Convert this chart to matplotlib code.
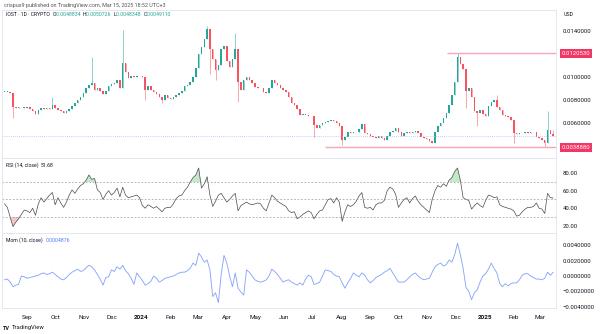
import numpy as np
import pandas as pd
import matplotlib
matplotlib.use('Agg')
import matplotlib.pyplot as plt
import matplotlib.dates as mdates
from matplotlib.ticker import FuncFormatter

plt.rcParams['font.family'] = ['Roboto', 'DejaVu Sans']

# IOST/USD, 3-day bars starting 2023-08-08
start = '2023-08-08'
close = [
    0.00870, 0.00870, 0.00860, 0.00740, 0.00730, 0.00735, 0.00740, 0.00730, 0.00740, 0.00720,
    0.00700, 0.00680, 0.00710, 0.00730, 0.00720, 0.00730, 0.00720, 0.00760, 0.00730, 0.00710,
    0.00700, 0.00685, 0.00700, 0.00720, 0.00750, 0.00770, 0.00800, 0.00830, 0.00860, 0.00900,
    0.00930, 0.00950, 0.00890, 0.00900, 0.00880, 0.00850, 0.00880, 0.00920, 0.00940, 0.00950,
    0.00970, 0.00900, 0.01120, 0.01040, 0.00990, 0.01010, 0.01000, 0.01010, 0.01005, 0.01000,
    0.00890, 0.00920, 0.00890, 0.00870, 0.00850, 0.00830, 0.00800, 0.00840, 0.00820, 0.00810,
    0.00830, 0.00840, 0.00860, 0.00880, 0.00920, 0.00930, 0.00960, 0.01000, 0.01080, 0.01200,
    0.01260, 0.01330, 0.01420, 0.01240, 0.01160, 0.01060, 0.01100, 0.01240, 0.01270, 0.01140,
    0.01090, 0.01160, 0.01240, 0.00960, 0.00890, 0.00970, 0.01000, 0.00970, 0.00950, 0.00910,
    0.00900, 0.00900, 0.00870, 0.00860, 0.00900, 0.00970, 0.00950, 0.00930, 0.00900, 0.00890,
    0.00870, 0.00830, 0.00770, 0.00760, 0.00720, 0.00670, 0.00670, 0.00670, 0.00660, 0.00660,
    0.00580, 0.00560, 0.00580, 0.00600, 0.00610, 0.00620, 0.00630, 0.00620, 0.00600, 0.00570,
    0.00450, 0.00480, 0.00520, 0.00510, 0.00520, 0.00520, 0.00550, 0.00590, 0.00510, 0.00500,
    0.00490, 0.00480, 0.00470, 0.00490, 0.00470, 0.00450, 0.00490, 0.00520, 0.00530, 0.00560,
    0.00520, 0.00490, 0.00510, 0.00520, 0.00515, 0.00520, 0.00530, 0.00510, 0.00480, 0.00470,
    0.00460, 0.00440, 0.00430, 0.00520, 0.00570, 0.00600, 0.00640, 0.00690, 0.00760, 0.00840,
    0.00960, 0.01170, 0.01110, 0.01070, 0.00880, 0.00900, 0.00830, 0.00700, 0.00690, 0.00710,
    0.00680, 0.00660, 0.00750, 0.00780, 0.00800, 0.00740, 0.00710, 0.00670, 0.00660, 0.00650,
    0.00630, 0.00510, 0.00500, 0.00510, 0.00515, 0.00520, 0.00515, 0.00520, 0.00525, 0.00480,
    0.00470, 0.00450, 0.00430, 0.00540, 0.00500, 0.004911,
]
first_open = 0.00870

# long wicks (bar number, extreme price)
wick_bar = [3, 17, 31, 42, 50, 56, 72, 73, 75, 82, 83, 110, 120, 161, 164, 168, 175, 181, 192, 193, 195]
wick_price = [0.00640, 0.00830, 0.01170, 0.01410, 0.00800, 0.00770, 0.01445, 0.01030, 0.00970,
              0.01380, 0.00780, 0.00480, 0.00410, 0.0120530, 0.00730, 0.00570, 0.00840, 0.00430,
              0.0038880, 0.00700, 0.00540]

rsi = [
    45, 41, 30, 19, 24, 28, 33, 38, 37, 35,
    40, 32, 45, 52, 47, 51, 55, 58, 44, 52,
    46, 41, 47, 55, 61, 57, 62, 66, 68, 72,
    78, 73, 74, 61, 58, 50, 56, 60, 55, 58,
    63, 53, 64, 55, 52, 53, 54, 55, 52, 43,
    40, 44, 42, 40, 42, 39, 36, 40, 41, 41,
    45, 51, 54, 55, 60, 64, 70, 75, 78, 86,
    63, 68, 76, 55, 42, 48, 55, 57, 52, 47,
    50, 54, 57, 37, 43, 45, 47, 45, 44, 45,
    46, 45, 40, 37, 46, 55, 52, 48, 46, 44,
    42, 37, 35, 36, 28, 30, 33, 35, 37, 35,
    28, 33, 37, 38, 44, 50, 51, 46, 52, 47,
    25, 36, 44, 42, 44, 48, 54, 58, 41, 40,
    41, 38, 44, 46, 46, 49, 60, 64, 62, 56,
    41, 46, 50, 52, 46, 51, 54, 48, 44, 41,
    38, 35, 50, 60, 66, 64, 68, 65, 72, 75,
    82, 86, 72, 52, 50, 49, 39, 43, 46, 43,
    41, 49, 55, 54, 52, 53, 44, 42, 41, 40,
    39, 37, 31, 32, 36, 39, 41, 41, 42, 46,
    40, 39, 34, 57, 52, 51.68,
]

mom = [
    -0.0005, -0.0004, -0.0008, -0.0014, -0.0012, -0.0011, 0.0, -0.0001, -0.0003, -0.0002,
    -0.0001, 0.0, 0.0001, 0.0003, 0.0004, 0.0002, 0.0003, 0.0005, 0.0002, -0.0001,
    -0.0004, -0.0005, -0.0002, 0.0002, 0.0005, 0.0007, 0.0009, 0.0006, 0.0007, 0.0011,
    0.0014, 0.0012, 0.0008, 0.0002, -0.0004, -0.0012, -0.0002, -0.0001, 0.0008, 0.0006,
    0.0012, 0.0009, 0.0014, 0.0007, 0.0003, -0.0003, -0.0011, 0.0004, -0.0001, -0.0006,
    -0.0012, -0.0010, -0.0007, 0.0, -0.0003, -0.0008, -0.0006, -0.0003, -0.0002, -0.0001,
    0.0, 0.0002, 0.0004, 0.0005, 0.0005, 0.0007, 0.0010, 0.0017, 0.0014, 0.0030,
    0.0025, 0.0018, 0.0021, 0.0008, -0.0027, -0.0022, -0.0035, 0.0002, 0.0027, 0.0017,
    0.0, -0.0014, 0.0004, -0.0016, -0.0021, -0.0025, 0.0008, 0.0005, 0.0, -0.0005,
    -0.0007, -0.0008, -0.0007, -0.0005, 0.0, 0.0009, 0.0006, 0.0002, -0.0003, -0.0008,
    -0.0006, -0.0005, -0.0008, -0.0010, -0.0012, -0.0009, -0.0012, -0.0004, 0.0001, -0.0001,
    -0.0011, -0.0010, -0.0008, 0.0, 0.0008, 0.0007, 0.0006, 0.0002, 0.0, -0.0001,
    -0.0009, -0.0016, -0.0009, -0.0003, 0.0004, 0.0001, -0.0001, 0.0004, 0.0001, -0.0005,
    -0.0009, -0.0006, -0.0002, 0.0, 0.0002, 0.0005, 0.0007, 0.0010, 0.0004, -0.0002,
    -0.0008, -0.0008, -0.0008, -0.0005, -0.0001, 0.0002, 0.0004, 0.0, -0.0003, -0.0005,
    -0.0004, -0.0003, 0.0005, 0.0012, 0.0015, 0.0017, 0.0013, 0.0015, 0.0021, 0.0018,
    0.0028, 0.0043, 0.0028, 0.0010, -0.0015, -0.0020, -0.0031, -0.0022, -0.0018, -0.0008,
    0.0, 0.0003, 0.0009, 0.0017, 0.0010, 0.0004, -0.0010, -0.0014, -0.0010, -0.0013,
    -0.0010, -0.0009, -0.0009, -0.0005, 0.0001, 0.0003, 0.0003, 0.0, -0.0002, -0.0004,
    -0.0004, -0.0005, -0.0003, 0.0005, 0.0001, 0.0004876,
]

month_ticks = ['2023-09-01', '2023-10-01', '2023-11-01', '2023-12-01', '2024-01-01', '2024-02-01',
               '2024-03-01', '2024-04-01', '2024-05-01', '2024-06-01', '2024-07-01', '2024-08-01',
               '2024-09-01', '2024-10-01', '2024-11-01', '2024-12-01', '2025-01-01', '2025-02-01',
               '2025-03-01']
month_labels = ['Sep', 'Oct', 'Nov', 'Dec', '2024', 'Feb', 'Mar', 'Apr', 'May', 'Jun', 'Jul', 'Aug',
                'Sep', 'Oct', 'Nov', 'Dec', '2025', 'Feb', 'Mar']

ath_level, ath_from = 0.0120530, '2024-11-22'
low_level, low_from = 0.0038880, '2024-07-15'

UP = '#26a69a'
DN = '#f7525f'
PINK = '#f23665'
TXT = '#131722'
EDGE = '#e0e3eb'

dates = pd.date_range(start, periods=len(close), freq='3D')
x = mdates.date2num(dates)
c = np.array(close)
o = np.array([first_open] + close[:-1])
hi = np.maximum(o, c)
lo = np.minimum(o, c)
for b, p in zip(wick_bar, wick_price):
    if p > hi[b]:
        hi[b] = p
    else:
        lo[b] = p
col = np.where(c >= o, UP, DN)

W, H = 600, 334
fig = plt.figure(figsize=(W / 100, H / 100), dpi=100)
fig.patch.set_facecolor('white')


def box(l, t, r, b):
    return [l / W, 1 - b / H, (r - l) / W, (b - t) / H]


ax1 = fig.add_axes(box(2, 10, 556, 158))
ax2 = fig.add_axes(box(2, 158, 556, 233), sharex=ax1)
ax3 = fig.add_axes(box(2, 233, 556, 308), sharex=ax1)

for ax in (ax1, ax2, ax3):
    for s in ax.spines.values():
        s.set_color(EDGE)
        s.set_linewidth(0.6)
    ax.yaxis.tick_right()
    ax.tick_params(axis='y', length=0, pad=5, labelsize=4.3, labelcolor=TXT)
    ax.tick_params(axis='x', length=0)

t0 = mdates.date2num(pd.Timestamp(start))
ax1.set_xlim(t0 - 2.7, t0 + 588)

# price pane
ax1.vlines(x, lo, hi, colors=col, linewidth=0.45, alpha=0.8)
ax1.bar(x, np.maximum(np.abs(c - o), 0.00004), bottom=np.minimum(o, c),
        width=1.6, color=col, linewidth=0)
ax1.set_ylim(0.0029565, 0.015826)
ax1.set_yticks([0.006, 0.008, 0.010, 0.014])
ax1.yaxis.set_major_formatter(FuncFormatter(lambda v, _: f'{v:.7f}'))
ax1.axhline(c[-1], color='#a9c1f2', linewidth=0.6, linestyle=(0, (1, 1.5)))
xr = ax1.get_xlim()[1]
ax1.hlines(ath_level, mdates.date2num(pd.Timestamp(ath_from)), xr, color='#f8a5b6', linewidth=1.0)
ax1.hlines(low_level, mdates.date2num(pd.Timestamp(low_from)), xr, color='#f8a5b6', linewidth=1.0)
for lvl in (ath_level, low_level):
    ax1.annotate(f'{lvl:.7f}', xy=(1, lvl), xycoords=('axes fraction', 'data'), xytext=(4.2, 0),
                 textcoords='offset points', va='center', ha='left', fontsize=4.3, color='white',
                 bbox=dict(boxstyle='square,pad=0.3', facecolor=PINK, edgecolor='none'),
                 annotation_clip=False)
plt.setp(ax1.get_xticklabels(), visible=False)

# RSI pane
ax2.plot(x, rsi, color='#4a4a4a', linewidth=0.5)
r = np.array(rsi, dtype=float)
ax2.fill_between(x, r, 70, where=r > 70, interpolate=True, color='#7ccf8a', alpha=0.45, linewidth=0)
ax2.fill_between(x, r, 30, where=r < 30, interpolate=True, color='#f27c86', alpha=0.45, linewidth=0)
for lvl in (70, 50, 30):
    ax2.axhline(lvl, color='#9598a1', linewidth=0.5, linestyle=(0, (2.5, 2.5)))
ax2.set_ylim(11.7, 97.4)
ax2.set_yticks([20, 40, 60, 80])
ax2.yaxis.set_major_formatter(FuncFormatter(lambda v, _: f'{v:.2f}'))
plt.setp(ax2.get_xticklabels(), visible=False)

# momentum pane
ax3.plot(x, mom, color='#8aa6fb', linewidth=0.65)
ax3.set_ylim(-0.004196, 0.005638)
ax3.set_yticks([-0.004, -0.002, 0.0, 0.002, 0.004])
ax3.yaxis.set_major_formatter(FuncFormatter(
    lambda v, _: f'{round(v, 7) + 0.0:.7f}'.replace('-', '\u2212')))
ax3.set_xticks(mdates.date2num(pd.to_datetime(month_ticks)))
ax3.set_xticklabels(month_labels)
ax3.tick_params(axis='x', labelsize=4.6, labelcolor=TXT, pad=5)
for lab in ax3.get_xticklabels():
    if lab.get_text().isdigit():
        lab.set_fontweight('bold')

rend = fig.canvas.get_renderer()


def run_text(px, py, parts, size, weight='normal'):
    for s, colr in parts:
        t = fig.text(px / W, 1 - py / H, s, color=colr, fontsize=size, va='center', ha='left',
                     fontweight=weight)
        px += t.get_window_extent(renderer=rend).width


run_text(4, 5, [('crispus9 published on TradingView.com, Mar 15, 2025 18:52 UTC+3', '#555555')], 3.9)
run_text(6, 14.5, [('IOST \u00b7 1D \u00b7 CRYPTO  ', TXT), ('O', TXT), ('0.0048834  ', UP),
                   ('H', TXT), ('0.0050726  ', UP), ('L', TXT), ('0.0048348  ', UP),
                   ('C', TXT), ('0.0049110', UP)], 3.7)
run_text(6, 165, [('RSI (14, close)  ', TXT), ('51.68', TXT)], 3.7)
run_text(6, 240, [('Mom (10, close)  ', TXT), ('0.0004876', '#4f7bf7')], 3.7)
fig.text(564 / W, 1 - 15 / H, 'USD', fontsize=3.8, color=TXT, va='center', ha='left')
run_text(3, 328, [('TV', TXT)], 4.0, 'bold')
fig.text(12 / W, 1 - 328 / H, 'TradingView', fontsize=4.2, color=TXT, va='center', ha='left')

fig.savefig('out.png', dpi=100, facecolor='white')
